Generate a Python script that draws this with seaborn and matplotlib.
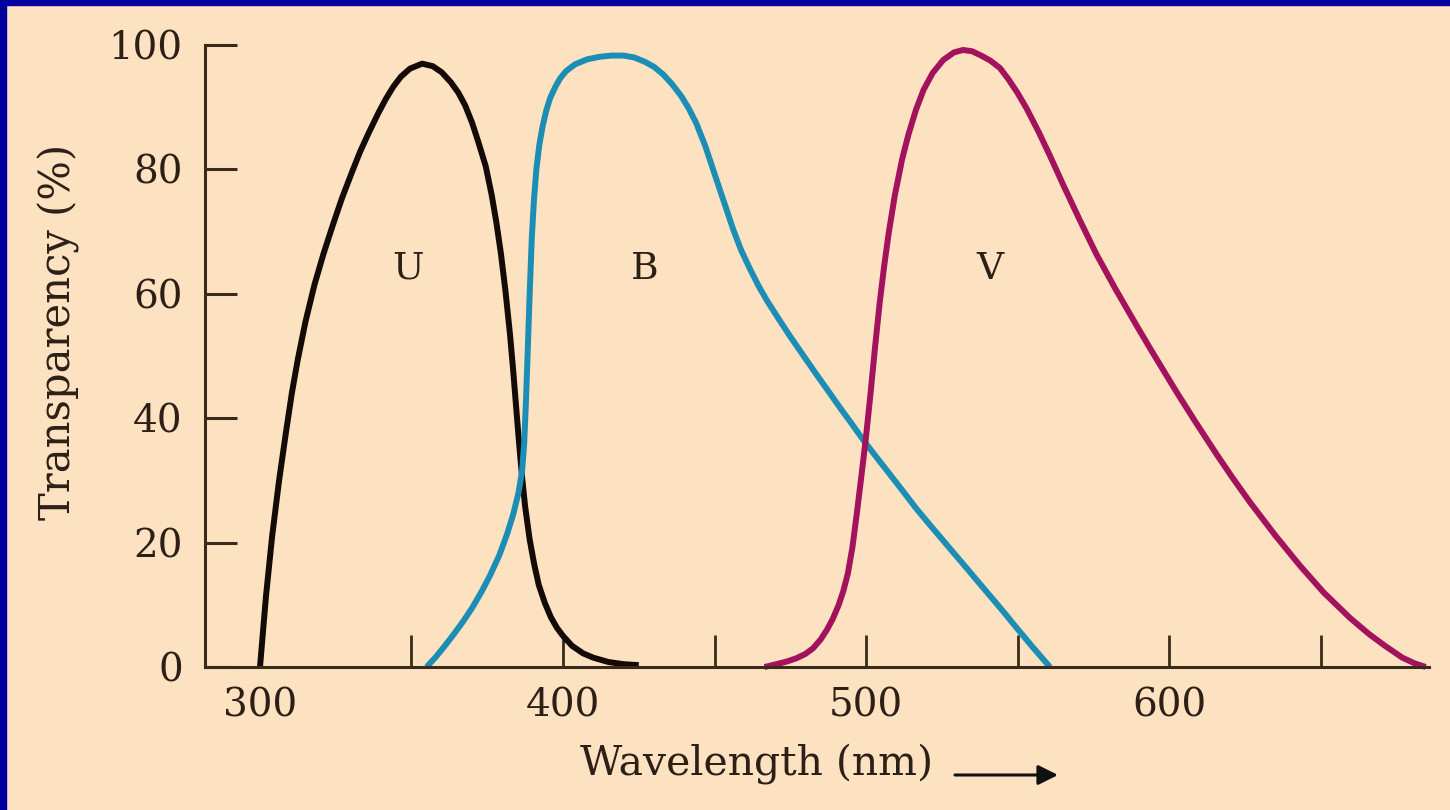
import numpy as np
import pandas as pd
import matplotlib
matplotlib.use("Agg")
import matplotlib.pyplot as plt
import seaborn as sns
from matplotlib.patches import Rectangle

# ---- data ----
u_nm = [300, 302, 304, 306.3, 308.5, 310.5, 312.5, 315, 318, 321, 324, 327, 330.3,
        333, 336, 339, 341.5, 344, 346.5, 349.5, 353.5, 357, 360, 363, 365.5, 367.7,
        370, 372, 374.5, 376.5, 378, 379.5, 381, 382.5, 383.5, 384.5, 385.5, 386.5,
        387.5, 389, 390.5, 392, 394, 396, 398, 400, 403, 406.6, 410, 415, 420, 425]
u_pct = [0, 11.5, 21, 30, 37.5, 44, 49.5, 55.5, 61.5, 66.5, 71, 75.3, 79.5,
         82.8, 86, 89, 91.3, 93.3, 94.9, 96.2, 97, 96.6, 95.6, 94, 92.3, 90.3,
         87.5, 84.5, 80.5, 75.8, 71.5, 66.5, 60.5, 53.5, 48, 42, 36, 30.5,
         25.8, 20.5, 16.5, 13.2, 10.3, 8, 6.3, 5, 3.4, 2.2, 1.5, 0.8, 0.45, 0.3]

b_nm = [355, 358, 361, 364, 367, 370, 373, 376, 379, 381.5, 383.6, 385.3, 386.5,
        387.2, 387.8, 388.3, 389, 389.7, 390.4, 391.2, 392.2, 393.3, 394.5, 395.7,
        397.5, 399, 401, 404, 408, 412, 416, 419.9, 423.5, 427, 430, 433, 436, 439,
        441.5, 444, 447, 450, 454, 456.2, 458.8, 461.7, 464.5, 467.2, 471, 474.9,
        479, 483.7, 487.5, 491.4, 495, 499.1, 503.5, 508, 512.3, 516.7, 521, 525,
        529, 533.2, 537, 541, 545.5, 549.7, 555, 560.7]
b_pct = [0, 1.6, 3.4, 5.3, 7.3, 9.5, 12, 14.8, 18, 21.3, 24.6, 28, 31.5,
         36, 43, 50, 60, 69, 75, 80, 84, 87, 89.5, 91.4,
         93.3, 94.6, 95.8, 96.9, 97.7, 98.1, 98.3, 98.3, 98, 97.3, 96.5, 95.3, 93.7, 91.8,
         89.8, 87.4, 83.7, 79.3, 73.5, 70.3, 67, 64, 61.3, 59, 56.1, 53.2,
         50.3, 47, 44.4, 41.7, 39.3, 36.5, 33.7, 30.9, 28.2, 25.4, 22.9, 20.6,
         18.3, 15.9, 13.7, 11.4, 8.8, 6.3, 3.2, 0]

v_nm = [466.5, 470, 474, 477, 480, 482.5, 485, 487, 489, 491, 492.5, 494, 495.5,
        497, 498.5, 500, 501.5, 503, 504.5, 506, 507.5, 509.5, 511.9, 514, 516.5,
        519, 522, 525.5, 529, 532, 535, 538, 541, 544.2, 547, 550, 553, 557, 560.7,
        565, 570.5, 576, 582.3, 589.3, 594.4, 602.5, 609, 615.7, 621, 626.7, 635,
        643.2, 651, 659.7, 666, 671, 677, 681, 684.7]
v_pct = [0, 0.4, 0.9, 1.4, 2.1, 3, 4.4, 5.9, 7.7, 10, 12.2, 15, 19.2,
         24.8, 30.8, 37, 44, 51.5, 58.5, 64.5, 69.8, 75.8, 81.6, 85.6, 89.6,
         92.8, 95.5, 97.6, 98.8, 99.2, 99, 98.3, 97.5, 96.3, 94.5, 92.3, 89.8, 86, 82.2,
         77.6, 71.9, 66.4, 60.8, 54.9, 50.7, 44.2, 39.2, 34.2, 30.4, 26.5, 21.2,
         16.3, 12, 7.9, 5.3, 3.5, 1.5, 0.6, 0]

band_names = ["U", "B", "V"]
band_colors = ["#140a08", "#1c8db5", "#a3125c"]
label_nm = [348.8, 427, 541]
label_pct = [64, 64, 64]

x_major = [300, 400, 500, 600]
x_minor = [350, 400, 450, 500, 550, 600, 650]
y_ticks = [0, 20, 40, 60, 80, 100]

# ---- styling ----
BG = "#fde2c2"
EDGE = "#3a2a1a"
TXT = "#2c2016"
BORDER = "#0000a0"

sns.set_theme(style="ticks")
plt.rcParams["font.family"] = ["DejaVu Serif"]
plt.rcParams["axes.unicode_minus"] = False

df = pd.concat([
    pd.DataFrame({"nm": u_nm, "pct": u_pct, "band": "U"}),
    pd.DataFrame({"nm": b_nm, "pct": b_pct, "band": "B"}),
    pd.DataFrame({"nm": v_nm, "pct": v_pct, "band": "V"}),
], ignore_index=True)

fig = plt.figure(figsize=(14.5, 8.1), dpi=100, facecolor=BG)
ax = fig.add_axes([205 / 1450, 1 - 667 / 810, 1224 / 1450, 622 / 810])
ax.set_facecolor(BG)

sns.lineplot(data=df, x="nm", y="pct", hue="band", hue_order=band_names,
             palette=dict(zip(band_names, band_colors)), sort=False,
             estimator=None, linewidth=4.3, legend=False, ax=ax)
for ln in ax.lines:
    ln.set_clip_on(False)
    ln.set_solid_capstyle("butt")
    ln.set_solid_joinstyle("round")

for name, xn, yp in zip(band_names, label_nm, label_pct):
    ax.text(xn, yp, name, ha="center", va="center", fontsize=27, color=TXT)

ax.set_xlim(281.85, 685.8)
ax.set_ylim(0, 100)

for s in ["top", "right"]:
    ax.spines[s].set_visible(False)
for s in ["left", "bottom"]:
    ax.spines[s].set_color(EDGE)
    ax.spines[s].set_linewidth(2.2)

ax.xaxis.remove_overlapping_locs = False
ax.set_xticks(x_major)
ax.set_xticklabels([str(v) for v in x_major])
ax.set_xticks(x_minor, minor=True)
ax.set_yticks(y_ticks)
ax.set_yticklabels([str(v) for v in y_ticks])

ax.tick_params(axis="x", which="major", direction="in", length=0, pad=15,
               labelsize=28, labelcolor=TXT)
ax.tick_params(axis="x", which="minor", direction="in", length=23, width=2,
               color=EDGE, labelbottom=False)
ax.tick_params(axis="y", which="major", direction="in", length=23, width=2.2,
               color=EDGE, pad=16, labelsize=28, labelcolor=TXT)

ax.set_xlabel("Wavelength (nm)", fontsize=29.5, color=TXT)
ax.xaxis.set_label_coords(0.451, -0.122)
ax.set_ylabel("Transparency (%)", fontsize=30, color=TXT)
ax.yaxis.set_label_coords(-0.102, 0.539)

ax.annotate("", xy=(1058 / 1450, 1 - 775 / 810), xytext=(955 / 1450, 1 - 775 / 810),
            xycoords="figure fraction", textcoords="figure fraction",
            arrowprops=dict(arrowstyle="-|>", color="#111111", lw=2.2,
                            mutation_scale=30, shrinkA=0, shrinkB=0))

fig.patches.append(Rectangle((0, 1 - 5 / 810), 1, 5 / 810, transform=fig.transFigure,
                             color=BORDER, zorder=10))
fig.patches.append(Rectangle((0, 0), 6 / 1450, 1, transform=fig.transFigure,
                             color=BORDER, zorder=10))

fig.savefig("out.png", dpi=100, facecolor=BG)
